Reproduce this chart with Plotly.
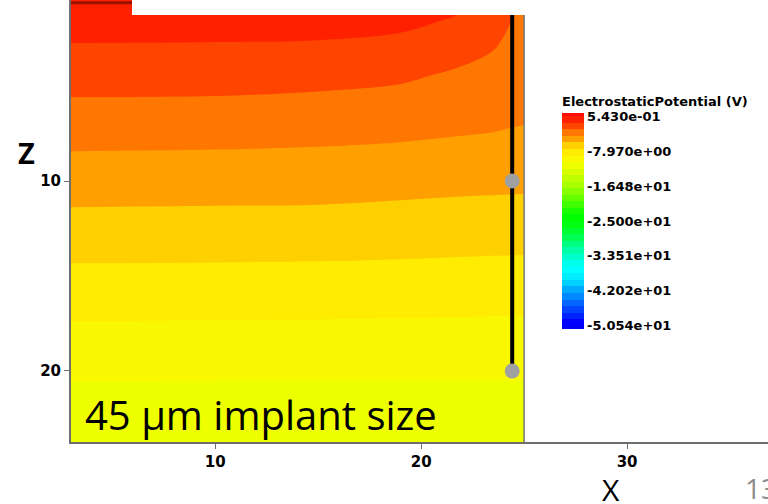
import plotly.graph_objects as go

# ---- simulated field: electrostatic potential (V) on an (x, z) grid ----
x_cols = [3, 10, 15, 19, 21.5, 23, 23.5, 24.2, 25]
z_rows = [0, 1.5, 3, 4.5, 6, 7.5, 9, 10.5, 12, 13.5, 15, 16.5, 18, 19.5, 21, 22.5, 24]
potential = [
    [0.49, 0.45, 0.45, 0.31, -0.23, -0.80, -1.70, -2.75, -3.00],
    [-0.36, -0.39, -0.41, -0.63, -1.13, -1.60, -2.10, -2.55, -3.05],
    [-1.20, -1.23, -1.30, -1.54, -2.03, -2.44, -2.60, -2.85, -3.25],
    [-2.04, -2.07, -2.20, -2.44, -2.85, -3.09, -3.20, -3.35, -3.55],
    [-2.89, -2.92, -3.06, -3.24, -3.50, -3.66, -3.72, -3.85, -3.95],
    [-3.73, -3.78, -3.88, -4.01, -4.16, -4.24, -4.27, -4.33, -4.38],
    [-4.56, -4.61, -4.67, -4.79, -4.91, -4.98, -5.00, -5.03, -5.06],
    [-5.37, -5.41, -5.45, -5.58, -5.67, -5.71, -5.72, -5.74, -5.75],
    [-6.18, -6.22, -6.24, -6.35, -6.42, -6.46, -6.47, -6.48, -6.49],
    [-7.00, -7.02, -7.05, -7.12, -7.18, -7.21, -7.22, -7.23, -7.24],
    [-7.79, -7.82, -7.85, -7.89, -7.94, -7.96, -7.97, -7.98, -7.99],
    [-8.58, -8.61, -8.63, -8.67, -8.70, -8.73, -8.74, -8.74, -8.75],
    [-9.35, -9.38, -9.40, -9.42, -9.44, -9.46, -9.47, -9.47, -9.48],
    [-10.11, -10.14, -10.14, -10.15, -10.16, -10.17, -10.17, -10.18, -10.18],
    [-10.88, -10.88, -10.89, -10.89, -10.90, -10.90, -10.90, -10.90, -10.90],
    [-11.62, -11.60, -11.60, -11.60, -11.60, -11.60, -11.60, -11.60, -11.60],
    [-12.10, -12.10, -12.10, -12.10, -12.10, -12.10, -12.10, -12.10, -12.10],
]

# colour-map range and its banded palette (lowest band first; the first and
# last entries are the half-bands beyond the range ends on the colour bar)
v_min, v_max = -50.54, 0.543
n_bands = 32
band_colors = [
    "#0000F0",
    "#0000FF", "#0022FF", "#0044FF", "#0066FF", "#0088FF", "#00AAFF", "#00D0FF", "#00EEFF",
    "#00FFFF", "#00FFEE", "#00FFCC", "#00FFA8", "#00FF80", "#00FF55", "#00FF30", "#00FF10",
    "#00FF00", "#18FF00", "#40FF00", "#66FF00", "#88FF00", "#A8FF00", "#C0FF00", "#D8FF00",
    "#EEFF00", "#FAF800", "#FFEC00", "#FFD000", "#FFA000", "#FF7700", "#FF4400", "#FF2000",
    "#FF0C00",
]
cb_tick_values = [0.543, -7.97, -16.48, -25.0, -33.51, -42.02, -50.54]
cb_tick_text = ["5.430e-01", "-7.970e+00", "-1.648e+01", "-2.500e+01",
                "-3.351e+01", "-4.202e+01", "-5.054e+01"]

# probe line and its two sample points
probe_x = 24.42
probe_z = [-1.0, 20.0]
probe_points_z = [10.0, 20.0]

x_ticks = [10, 20, 30]
z_ticks = [10, 20]
x_range = [3, 36.84]
z_range = [23.74, 0.47]
domain_right = 25

band_size = (v_max - v_min) / n_bands
n_col = len(band_colors)
colorscale = [[k / (n_col - 1), c] for k, c in enumerate(band_colors)]

fig = go.Figure()
fig.add_trace(go.Contour(
    x=x_cols, y=z_rows, z=potential,
    autocontour=False,
    contours=dict(start=v_min, end=v_max, size=band_size,
                  coloring="fill", showlines=False),
    line=dict(width=0, smoothing=1),
    colorscale=colorscale,
    colorbar=dict(
        x=(562 - 71) / 697, xanchor="left",
        y=1 - 211 / 442, yanchor="middle",
        len=236, lenmode="pixels",
        thickness=22, thicknessmode="pixels",
        outlinewidth=0, ticks="",
        tickvals=cb_tick_values, ticktext=cb_tick_text,
        tickfont=dict(family="DejaVu Sans", size=13, color="black", weight="bold"),
        title=dict(text="ElectrostaticPotential (V)", side="top",
                   font=dict(family="DejaVu Sans", size=13, color="black", weight="bold")),
        xpad=0, ypad=0,
    ),
    hoverinfo="skip",
))

# top surface layer
fig.add_trace(go.Scatter(x=[x_range[0], domain_right], y=[0.62, 0.62], mode="lines",
                         line=dict(color="#9b1000", width=3), hoverinfo="skip"))
# right edge of simulation domain
fig.add_trace(go.Scatter(x=[domain_right, domain_right], y=[0, 24], mode="lines",
                         line=dict(color="#7a7a7a", width=1.5), hoverinfo="skip"))
# probe line with sample points
fig.add_trace(go.Scatter(x=[probe_x, probe_x], y=probe_z, mode="lines",
                         line=dict(color="black", width=4), hoverinfo="skip"))
fig.add_trace(go.Scatter(x=[probe_x] * len(probe_points_z), y=probe_points_z, mode="markers",
                         marker=dict(size=15, color="#a0a0a0"), hoverinfo="skip"))

tick_font = dict(family="DejaVu Sans", size=15, color="black", weight="bold")
fig.update_xaxes(range=x_range, tickvals=x_ticks, ticks="outside", ticklen=5,
                 tickcolor="#6e6e6e", showline=True, linecolor="#6e6e6e", linewidth=2,
                 showgrid=False, zeroline=False, tickfont=tick_font)
fig.update_yaxes(range=z_range, tickvals=z_ticks, ticks="outside", ticklen=5,
                 tickcolor="#6e6e6e", showline=True, linecolor="#6e6e6e", linewidth=2,
                 showgrid=False, zeroline=False, tickfont=tick_font)

fig.update_layout(
    width=768, height=504,
    margin=dict(l=71, r=0, t=0, b=62),
    paper_bgcolor="white", plot_bgcolor="white",
    showlegend=False,
    shapes=[dict(type="rect", xref="paper", yref="paper",
                 x0=(132 - 71) / 697, x1=(530 - 71) / 697, y0=1 - 15 / 442, y1=1.05,
                 fillcolor="white", line=dict(width=0), layer="above")],
    annotations=[
        dict(text="45 µm implant size", xref="paper", yref="paper",
             x=(83 - 71) / 697, y=1 - 414 / 442, xanchor="left", yanchor="middle",
             showarrow=False, font=dict(family="Open Sans", size=40, color="black")),
        dict(text="Z", xref="paper", yref="paper",
             x=(26.5 - 71) / 697, y=1 - 152 / 442, xanchor="center", yanchor="middle",
             showarrow=False, font=dict(family="Open Sans", size=29, color="black", weight="bold")),
        dict(text="X", xref="paper", yref="paper",
             x=(611 - 71) / 697, y=1 - 489 / 442, xanchor="center", yanchor="middle",
             showarrow=False, font=dict(family="Open Sans", size=30, color="black")),
        dict(text="13", xref="paper", yref="paper",
             x=(743 - 71) / 697, y=1 - 488 / 442, xanchor="left", yanchor="middle",
             showarrow=False, font=dict(family="Open Sans", size=28, color="#8c8c8c")),
    ],
)

fig.write_html("out.html")
